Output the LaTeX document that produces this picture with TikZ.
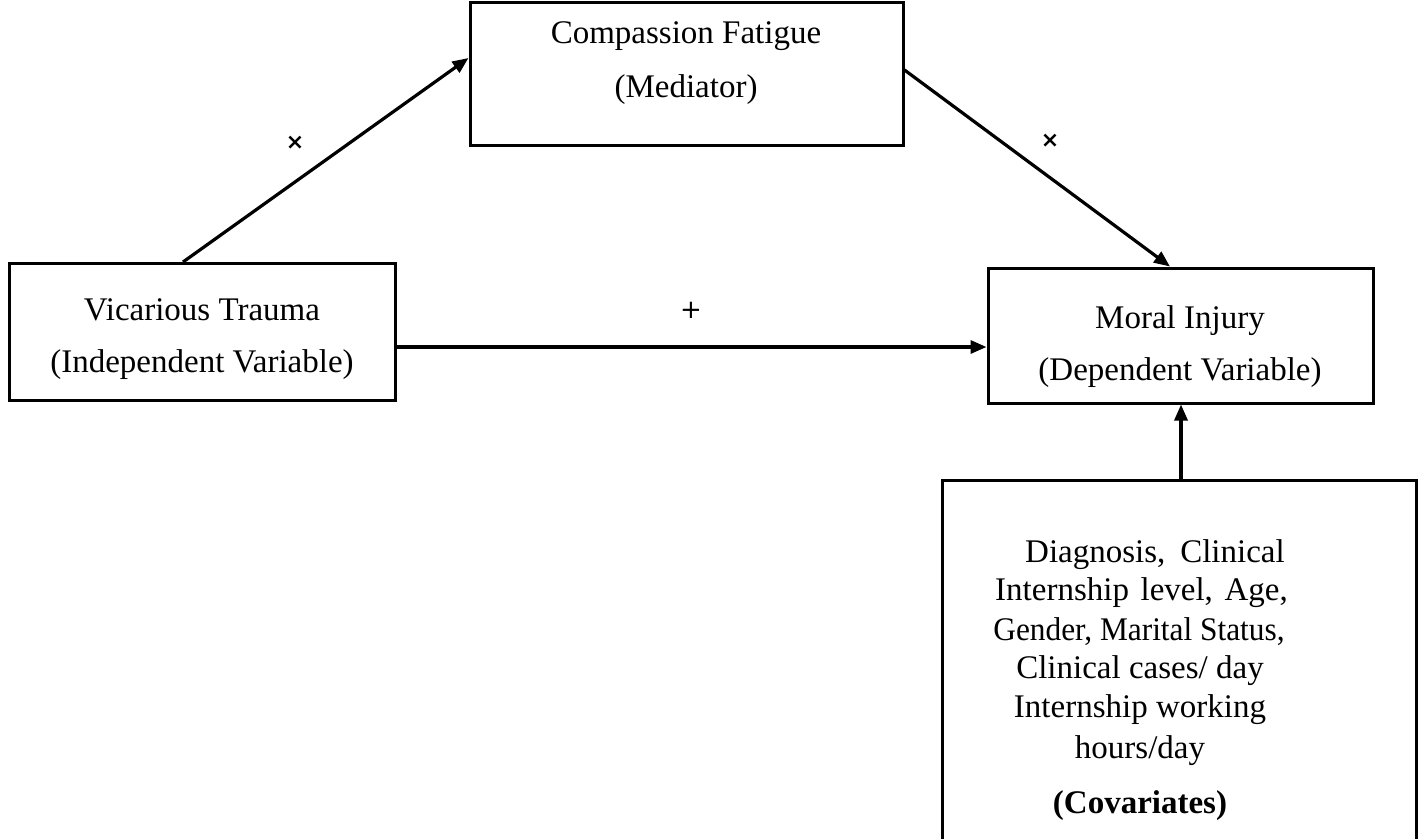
\documentclass[tikz,border=0pt]{standalone}
\usepackage{fontspec}
\setmainfont{Liberation Serif}
\newfontfamily\symfont{DejaVu Sans}
\usetikzlibrary{arrows.meta}
\begin{document}
\begin{tikzpicture}[x=1pt,y=-1pt,
  box/.style={draw,line width=3pt,inner sep=0pt},
  txt/.style={font=\fontsize{33}{39}\selectfont,anchor=base,inner sep=0pt},
  signlabel/.style={font=\symfont\bfseries\fontsize{22}{22}\selectfont,inner sep=0pt},
  arr/.style={line width=3.2pt,-{Triangle[length=16pt,width=13pt]}}]
\useasboundingbox (0,0) rectangle (1420,838);
\clip (0,0) rectangle (1420,838);
% boxes
\node[box,minimum width=433pt,minimum height=143pt] (cf) at (686.5,73.5) {};
\node[box,minimum width=386pt,minimum height=137pt] (vt) at (202,332) {};
\node[box,minimum width=385pt,minimum height=135pt] (mi) at (1180.5,335.5) {};
\node[box,minimum width=474pt,minimum height=380pt] (cov) at (1179,670) {};
% texts
\node[txt] (t1) at (686,43) {Compassion Fatigue};
\node[txt] (t2) at (686,97) {(Mediator)};
\node[txt] (t3) at (202,320) {Vicarious Trauma};
\node[txt] (t4) at (202,372) {(Independent Variable)};
\node[txt] (t5) at (1180,328) {Moral Injury};
\node[txt] (t6) at (1180,380) {(Dependent Variable)};
\node[txt,anchor=base east] (c1) at (1285,562) {Diagnosis,\hspace{0.45em}Clinical};
\node[txt,anchor=base west] (c2) at (995,600) {Internship\hspace{0.35em}level,\hspace{0.35em}Age,};
\node[txt,xscale=0.95] (c3) at (1139,640) {Gender, Marital Status,};
\node[txt] (c4) at (1140,678) {Clinical cases/ day};
\node[txt] (c5) at (1140,717) {Internship working};
\node[txt] (c6) at (1140,758) {hours/day};
\node[txt,font=\fontsize{33}{39}\selectfont\bfseries] (c7) at (1140,813) {(Covariates)};
% sign labels
\node[signlabel] (m1) at (295,143) {×};
\node[signlabel] (m2) at (1050,141) {×};
\node[signlabel,font=\symfont\fontsize{26}{26}\selectfont] (m3) at (691,310) {+};
% connectors
\coordinate (a1s) at ([xshift=-19pt]vt.north);
\coordinate (a1e) at ([yshift=15.5pt]cf.west);
\coordinate (a2s) at ([yshift=3.5pt]cf.east);
\coordinate (a2e) at ([xshift=-10.5pt]mi.north);
\coordinate (a3s) at ([yshift=-15pt]vt.east);
\coordinate (a3e) at ([yshift=-11.5pt]mi.west);
\coordinate (a4s) at ([xshift=2pt]cov.north);
\coordinate (a4e) at ([xshift=0.5pt]mi.south);
\draw[arr] (a1s) -- (a1e);
\draw[arr] (a2s) -- (a2e);
\draw[arr] (a3s) -- (a3e);
\draw[arr] (a4s) -- (a4e);
\end{tikzpicture}
\end{document}
